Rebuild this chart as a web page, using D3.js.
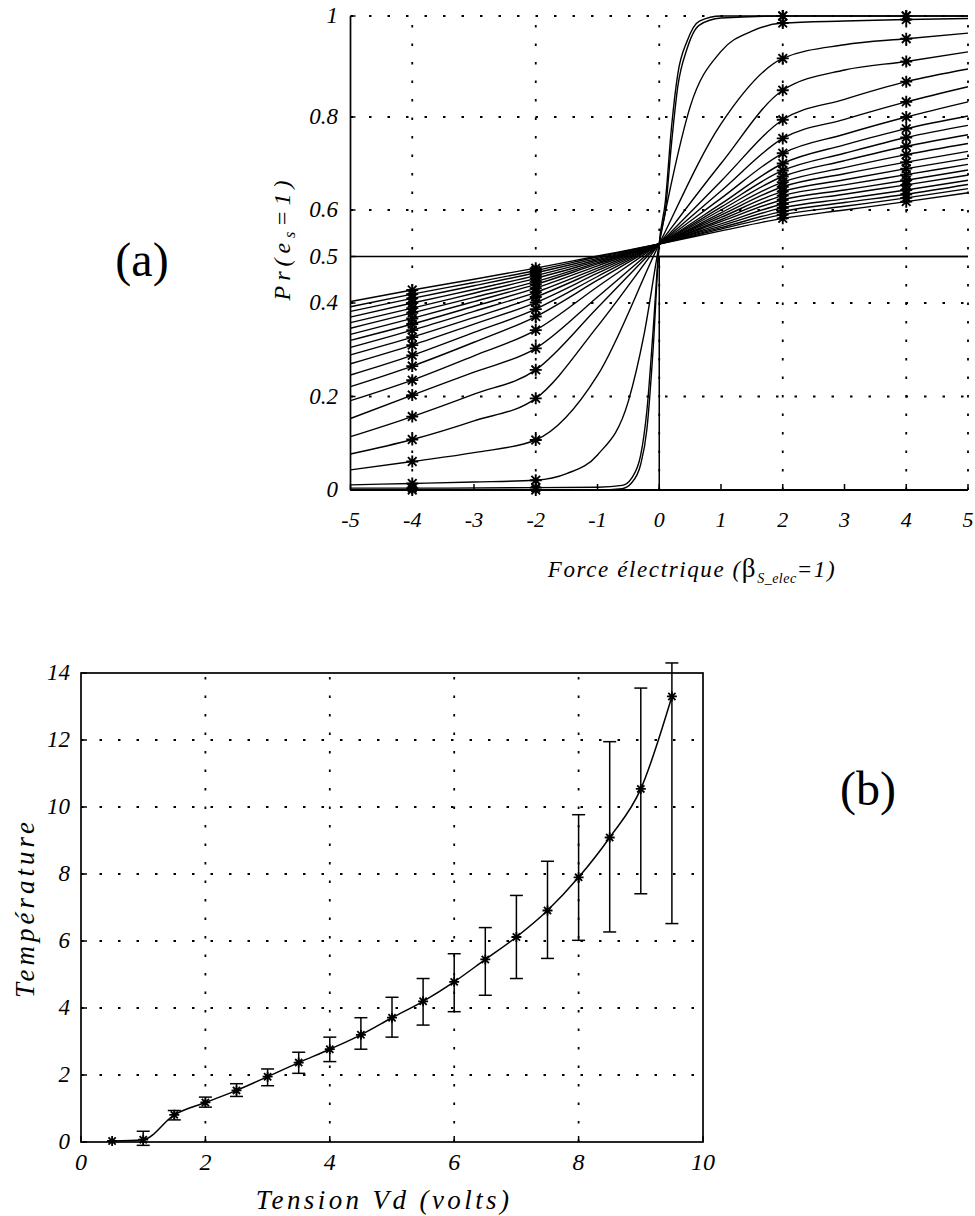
<!DOCTYPE html>
<html><head><meta charset="utf-8">
<script src="https://cdn.jsdelivr.net/npm/d3@7"></script>
<style>
body{margin:0;background:#fff;}
svg{display:block;}
svg text{font-family:"Liberation Serif","Times New Roman","Liberation Sans",Arimo,Arial,sans-serif;fill:#000;}
</style></head><body>
<svg id="c" width="975" height="1216"></svg>
<script>
// ---------- Chart (a) data ----------
const aXTicks = [-5,-4,-3,-2,-1,0,1,2,3,4,5];
const aXGrid = [-4,-2,0,2,4,5];
const aYTicks = [0,0.2,0.4,0.5,0.6,0.8,1];
const aYTickLabels = ["0","0.2","0.4","0.5","0.6","0.8","1"];
const aYGrid = [0.2,0.4,0.6,0.8,1];
const markerX = [-4,-2,2,4];

// steepest pair of curves
const xSteep = [-5,-4,-2,-1,-0.6,-0.45,-0.3,-0.2,-0.1,0,0.1,0.2,0.3,0.45,0.65,1,2,4,5];
const steepA = [0,0,0,0,0.003,0.015,0.055,0.13,0.30,0.527,0.62,0.78,0.885,0.95,0.99,1,1,1,1];
const steepB = [0.004,0.004,0.005,0.006,0.01,0.025,0.075,0.17,0.34,0.527,0.60,0.745,0.86,0.935,0.982,0.996,1,1,1];

// second steepest curve
const xFine = [-5,-4,-3,-2,-1.5,-1,-0.5,-0.25,0,0.25,0.5,1,1.5,2,3,4,5];
const curveK1 = [0.011,0.014,0.017,0.021,0.035,0.075,0.19,0.33,0.527,0.69,0.82,0.93,0.97,0.986,0.99,0.993,0.995];

// fan of flatter curves
const xMain = [-5,-4,-3,-2,-1,0,1,2,3,4,5];
const fanCurves = [
  [0.043,0.061,0.080,0.107,0.245,0.527,0.785,0.916,0.943,0.955,0.966],
  [0.077,0.108,0.148,0.196,0.350,0.527,0.700,0.853,0.893,0.910,0.929],
  [0.114,0.157,0.205,0.257,0.390,0.527,0.662,0.794,0.835,0.870,0.895],
  [0.153,0.203,0.252,0.303,0.413,0.527,0.641,0.754,0.795,0.830,0.860],
  [0.191,0.235,0.287,0.342,0.435,0.527,0.625,0.722,0.763,0.800,0.830],
  [0.221,0.265,0.316,0.371,0.449,0.527,0.613,0.700,0.740,0.775,0.802],
  [0.246,0.288,0.337,0.387,0.457,0.527,0.606,0.685,0.722,0.756,0.782],
  [0.270,0.310,0.355,0.401,0.464,0.527,0.600,0.672,0.706,0.737,0.762],
  [0.289,0.327,0.369,0.413,0.470,0.527,0.594,0.660,0.691,0.719,0.743],
  [0.305,0.342,0.382,0.423,0.475,0.527,0.589,0.650,0.678,0.703,0.726],
  [0.320,0.355,0.393,0.432,0.480,0.527,0.584,0.640,0.665,0.689,0.711],
  [0.333,0.367,0.403,0.440,0.484,0.527,0.579,0.631,0.654,0.676,0.698],
  [0.346,0.379,0.412,0.446,0.487,0.527,0.575,0.622,0.643,0.664,0.686],
  [0.358,0.389,0.421,0.453,0.490,0.527,0.570,0.613,0.634,0.654,0.675],
  [0.370,0.400,0.429,0.459,0.493,0.527,0.566,0.605,0.624,0.643,0.664],
  [0.382,0.410,0.437,0.465,0.496,0.527,0.562,0.597,0.616,0.634,0.655],
  [0.392,0.419,0.444,0.470,0.499,0.527,0.559,0.590,0.608,0.626,0.646],
  [0.403,0.428,0.451,0.475,0.501,0.527,0.555,0.582,0.600,0.618,0.637]
];
// flat line (0.5) and step line
const flatX = [-5,5];
const flatY = [0.5,0.5];
const stepX = [-5,0,0,5];
const stepY = [0,0,0.5,0.5];

// ---------- Chart (b) data ----------
const bV    = [0.5,1,1.5,2,2.5,3,3.5,4,4.5,5,5.5,6,6.5,7,7.5,8,8.5,9,9.5];
const bT    = [0.03,0.07,0.81,1.18,1.54,1.95,2.37,2.77,3.20,3.71,4.20,4.78,5.45,6.12,6.91,7.90,9.09,10.54,13.30];
const bLow  = [0.03,-0.10,0.66,1.04,1.36,1.68,2.05,2.40,2.77,3.13,3.49,3.89,4.38,4.88,5.48,6.02,6.27,7.41,6.52];
const bHigh = [0.03,0.32,0.94,1.34,1.74,2.18,2.68,3.13,3.71,4.32,4.88,5.62,6.40,7.36,8.38,9.77,11.95,13.55,14.30];
const bXTicks = [0,2,4,6,8,10];
const bXGrid = [2,4,6,8];
const bYTicks = [0,2,4,6,8,10,12,14];
const bYGrid = [2,4,6,8,10,12];

// ---------- drawing ----------
const FONT = '"Liberation Serif","Times New Roman","Liberation Sans",Arimo,Arial,sans-serif';
const svg = d3.select("#c").attr("font-family", FONT);
const DOT = "2.5,16";

function starPath(cx, cy, r){
  const d = r*0.72;
  return `M${cx-r},${cy}H${cx+r}M${cx},${cy-r}V${cy+r}` +
         `M${cx-d},${cy-d}L${cx+d},${cy+d}M${cx-d},${cy+d}L${cx+d},${cy-d}`;
}

// ===== (a) =====
const xA = d3.scaleLinear().domain([-5,5]).range([350.5,968]);
const yA = d3.scaleLinear().domain([0,0.4,0.8,1]).range([490,303,117,16]);
const gA = svg.append("g");

gA.selectAll(".vg").data(aXGrid).join("line")
  .attr("x1",d=>xA(d)).attr("x2",d=>xA(d)).attr("y1",yA(0)).attr("y2",yA(1))
  .attr("stroke","#000").attr("stroke-width",1.8).attr("stroke-dasharray",DOT);
gA.selectAll(".hg").data(aYGrid).join("line")
  .attr("x1",xA(-5)).attr("x2",xA(5)).attr("y1",d=>yA(d)).attr("y2",d=>yA(d))
  .attr("stroke","#000").attr("stroke-width",1.8).attr("stroke-dasharray",DOT);

gA.append("line").attr("x1",xA(-5)).attr("x2",xA(-5)).attr("y1",yA(0)).attr("y2",yA(1))
  .attr("stroke","#000").attr("stroke-width",1.7);
gA.append("line").attr("x1",xA(-5)).attr("x2",xA(5)).attr("y1",yA(0)).attr("y2",yA(0))
  .attr("stroke","#000").attr("stroke-width",2);
gA.selectAll(".xt").data(aXTicks).join("line")
  .attr("x1",d=>xA(d)).attr("x2",d=>xA(d)).attr("y1",yA(0)).attr("y2",yA(0)-6)
  .attr("stroke","#000").attr("stroke-width",1.5);
gA.selectAll(".yt").data(aYTicks).join("line")
  .attr("x1",xA(-5)).attr("x2",xA(-5)+5).attr("y1",d=>yA(d)).attr("y2",d=>yA(d))
  .attr("stroke","#000").attr("stroke-width",1.5);

gA.selectAll(".xl").data(aXTicks).join("text")
  .attr("x",d=>xA(d)).attr("y",527).attr("text-anchor","middle")
  .attr("font-size",22).attr("font-style","italic")
  .text(d=> d<0 ? "-"+Math.abs(d) : String(d));
gA.selectAll(".yl").data(aYTicks).join("text")
  .attr("x",338).attr("y",d=>yA(d)+7).attr("text-anchor","end")
  .attr("font-size",23).attr("font-style","italic")
  .text((d,i)=>aYTickLabels[i]);

const lineA = d3.line().x(d=>xA(d[0])).y(d=>yA(d[1])).curve(d3.curveMonotoneX);
const lineLin = d3.line().x(d=>xA(d[0])).y(d=>yA(d[1]));
const allCurves = [
  {xs:xSteep, ys:steepA},
  {xs:xSteep, ys:steepB},
  {xs:xFine, ys:curveK1}
].concat(fanCurves.map(ys=>({xs:xMain, ys})));

gA.append("path").attr("d",lineLin(flatX.map((x,i)=>[x,flatY[i]])))
  .attr("fill","none").attr("stroke","#000").attr("stroke-width",1.5);
gA.append("path").attr("d",lineLin(stepX.map((x,i)=>[x,stepY[i]])))
  .attr("fill","none").attr("stroke","#000").attr("stroke-width",1.5);

allCurves.forEach(c=>{
  const pts = c.xs.map((x,i)=>[x,c.ys[i]]);
  gA.append("path").attr("d",lineA(pts))
    .attr("fill","none").attr("stroke","#000").attr("stroke-width",1.4);
});
allCurves.forEach(c=>{
  markerX.forEach(mx=>{
    const i = c.xs.indexOf(mx);
    if(i<0) return;
    gA.append("path").attr("d",starPath(xA(mx), yA(c.ys[i]), 6))
      .attr("stroke","#000").attr("stroke-width",1.9).attr("fill","none");
  });
});

const yt = gA.append("text").attr("transform","translate(290,238) rotate(-90)")
  .attr("text-anchor","middle").attr("font-size",24).attr("font-style","italic")
  .attr("letter-spacing",5);
yt.append("tspan").text("Pr(e");
yt.append("tspan").attr("font-size",16).attr("dy",5).text("s");
yt.append("tspan").attr("dy",-5).text("=1)");

const xt = gA.append("text").attr("x",692).attr("y",577)
  .attr("text-anchor","middle").attr("font-size",23).attr("font-style","italic")
  .attr("letter-spacing",1.6);
xt.append("tspan").text("Force électrique (");
xt.append("tspan").attr("font-style","normal").attr("font-size",27).text("β");
xt.append("tspan").attr("font-size",14).attr("dy",6).attr("letter-spacing",0.5).text("S_elec");
xt.append("tspan").attr("dy",-6).text("=1)");

gA.append("text").attr("x",142).attr("y",276).attr("text-anchor","middle")
  .attr("font-size",48).text("(a)");

// ===== (b) =====
const xB = d3.scaleLinear().domain([0,10]).range([81,703]);
const yB = d3.scaleLinear().domain([0,14]).range([1142,673]);
const gB = svg.append("g");

gB.selectAll(".vg").data(bXGrid).join("line")
  .attr("x1",d=>xB(d)).attr("x2",d=>xB(d)).attr("y1",yB(0)).attr("y2",yB(14))
  .attr("stroke","#000").attr("stroke-width",1.8).attr("stroke-dasharray",DOT);
gB.selectAll(".hg").data(bYGrid).join("line")
  .attr("x1",xB(0)).attr("x2",xB(10)).attr("y1",d=>yB(d)).attr("y2",d=>yB(d))
  .attr("stroke","#000").attr("stroke-width",1.8).attr("stroke-dasharray",DOT);

gB.append("rect").attr("x",xB(0)).attr("y",yB(14))
  .attr("width",xB(10)-xB(0)).attr("height",yB(0)-yB(14))
  .attr("fill","none").attr("stroke","#000").attr("stroke-width",1.7);

gB.selectAll(".xt").data(bXTicks).join("line")
  .attr("x1",d=>xB(d)).attr("x2",d=>xB(d)).attr("y1",yB(0)).attr("y2",yB(0)-6)
  .attr("stroke","#000").attr("stroke-width",1.5);
gB.selectAll(".yt").data(bYTicks).join("line")
  .attr("x1",xB(0)).attr("x2",xB(0)+6).attr("y1",d=>yB(d)).attr("y2",d=>yB(d))
  .attr("stroke","#000").attr("stroke-width",1.5);

gB.selectAll(".xl").data(bXTicks).join("text")
  .attr("x",d=>xB(d)).attr("y",1170).attr("text-anchor","middle")
  .attr("font-size",24).attr("font-style","italic").text(d=>d);
gB.selectAll(".yl").data(bYTicks).join("text")
  .attr("x",70).attr("y",d=>yB(d)+7).attr("text-anchor","end")
  .attr("font-size",23).attr("font-style","italic").text(d=>d);

const eb = gB.append("g").attr("stroke","#000").attr("stroke-width",1.5);
bV.forEach((v,i)=>{
  if(bHigh[i]===bLow[i]) return;
  const x = xB(v);
  eb.append("line").attr("x1",x).attr("x2",x).attr("y1",yB(bLow[i])).attr("y2",yB(bHigh[i]));
  eb.append("line").attr("x1",x-6.5).attr("x2",x+6.5).attr("y1",yB(bLow[i])).attr("y2",yB(bLow[i]));
  eb.append("line").attr("x1",x-6.5).attr("x2",x+6.5).attr("y1",yB(bHigh[i])).attr("y2",yB(bHigh[i]));
});
const lineB = d3.line().x(d=>xB(d[0])).y(d=>yB(d[1])).curve(d3.curveMonotoneX);
gB.append("path").attr("d",lineB(bV.map((v,i)=>[v,bT[i]])))
  .attr("fill","none").attr("stroke","#000").attr("stroke-width",1.5);
bV.forEach((v,i)=>{
  gB.append("path").attr("d",starPath(xB(v), yB(bT[i]), 5))
    .attr("stroke","#000").attr("stroke-width",1.8).attr("fill","none");
});

gB.append("text").attr("transform","translate(34,908) rotate(-90)")
  .attr("text-anchor","middle").attr("font-size",27).attr("font-style","italic")
  .attr("letter-spacing",4).text("Température");
gB.append("text").attr("x",384).attr("y",1209).attr("text-anchor","middle")
  .attr("font-size",27).attr("font-style","italic")
  .attr("letter-spacing",3.4).text("Tension Vd (volts)");

gB.append("text").attr("x",868).attr("y",805).attr("text-anchor","middle")
  .attr("font-size",48).text("(b)");
</script>
</body></html>
